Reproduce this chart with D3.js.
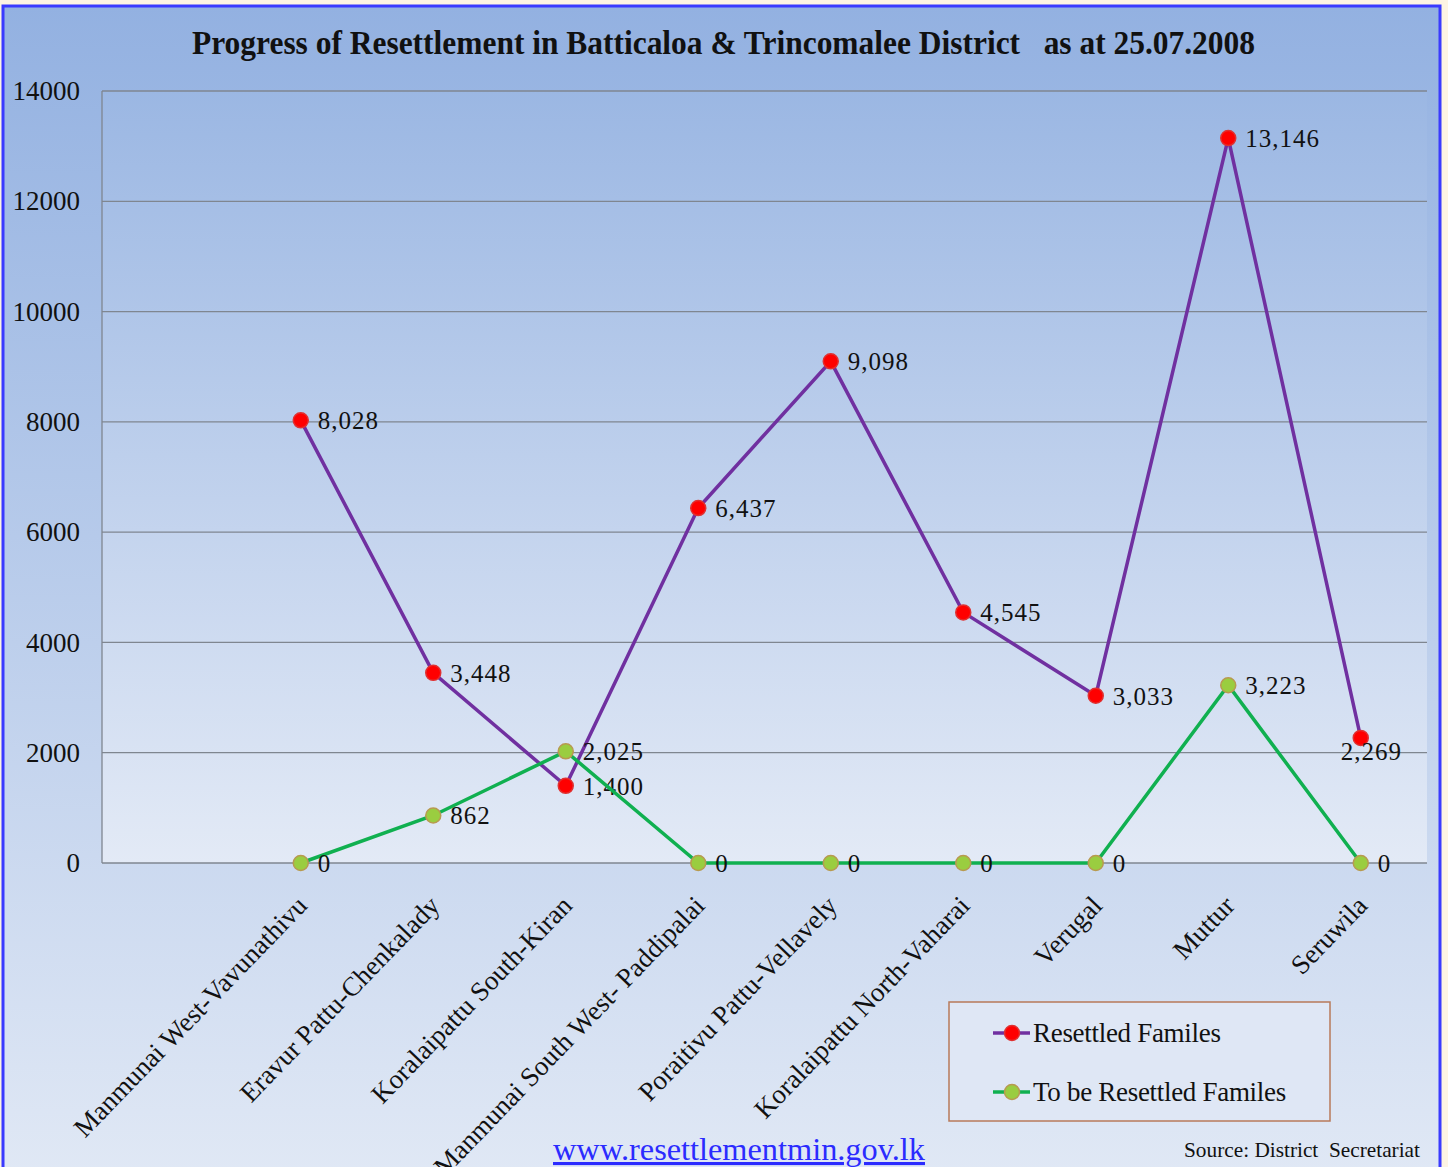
<!DOCTYPE html>
<html>
<head>
<meta charset="utf-8">
<script src="https://cdn.jsdelivr.net/npm/d3@7"></script>
<style>
  body { margin: 0; background: #fdf4e3; }
  svg { display: block; }
  text { font-family: "Liberation Serif", "DejaVu Serif", serif; fill: #111; }
</style>
</head>
<body>
<svg id="chart" width="1448" height="1167"></svg>
<script>
// categories (the first band is left empty, as in the original chart)
var districts = ["Manmunai West-Vavunathivu", "Eravur Pattu-Chenkalady", "Koralaipattu South-Kiran",
    "Manmunai South West- Paddipalai", "Poraitivu Pattu-Vellavely", "Koralaipattu North-Vaharai",
    "Verugal", "Muttur", "Seruwila"];
var resettled = [8028, 3448, 1400, 6437, 9098, 4545, 3033, 13146, 2269];
var toBeResettled = [0, 862, 2025, 0, 0, 0, 0, 3223, 0];
var yTicks = [0, 2000, 4000, 6000, 8000, 10000, 12000, 14000];
var seriesNames = ["Resettled Familes", "To be Resettled Familes"];

var width = 1448,
    height = 1167,
    plot = { left: 102, right: 1427, top: 91, bottom: 863 };

var svg = d3.select('#chart');
var defs = svg.append("defs");

var g1 = defs.append("linearGradient").attr("id", "bg").attr("x1", 0).attr("y1", 0).attr("x2", 0).attr("y2", 1);
g1.append("stop").attr("offset", "0%").attr("stop-color", "#93b1e1");
g1.append("stop").attr("offset", "100%").attr("stop-color", "#e0e8f5");

var g2 = defs.append("linearGradient").attr("id", "plotbg").attr("x1", 0).attr("y1", 0).attr("x2", 0).attr("y2", 1);
g2.append("stop").attr("offset", "0%").attr("stop-color", "#9bb7e3");
g2.append("stop").attr("offset", "100%").attr("stop-color", "#e3eaf6");

// outer panel
svg.append("rect")
    .attr("x", 3).attr("y", 6)
    .attr("width", 1437).attr("height", height)
    .attr("fill", "url(#bg)")
    .attr("stroke", "#3a3aff")
    .attr("stroke-width", 3);

// plot area
svg.append("rect")
    .attr("x", plot.left).attr("y", plot.top)
    .attr("width", plot.right - plot.left).attr("height", plot.bottom - plot.top)
    .attr("fill", "url(#plotbg)");

// title
svg.append("text")
    .attr("x", 192).attr("y", 54)
    .attr("textLength", 1063)
    .attr("lengthAdjust", "spacingAndGlyphs")
    .style("font-size", "33px")
    .style("font-weight", "bold")
    .style("white-space", "pre")
    .text("Progress of Resettlement in Batticaloa & Trincomalee District   as at 25.07.2008");

var xScale = d3.scaleBand().domain([""].concat(districts)).range([plot.left, plot.right]).padding(0);
var yScale = d3.scaleLinear().domain([0, 14000]).range([plot.bottom, plot.top]);
var cx = d => xScale(d) + xScale.bandwidth() / 2;

// grid lines
svg.append("g")
    .attr("class", "grid")
    .selectAll("line")
    .data(yTicks)
    .enter().append("line")
    .attr("x1", plot.left).attr("x2", plot.right)
    .attr("y1", d => yScale(d)).attr("y2", d => yScale(d))
    .attr("stroke", "#7f8690")
    .attr("stroke-width", 1.3);

svg.append("line")
    .attr("x1", plot.left).attr("x2", plot.left)
    .attr("y1", plot.top).attr("y2", plot.bottom)
    .attr("stroke", "#7f8690").attr("stroke-width", 1.3);

// y axis labels
var yAxis = d3.axisLeft(yScale).tickValues(yTicks).tickSize(0).tickPadding(22).tickFormat(d3.format("d"));
var yAxisGroup = svg.append("g").attr("transform", `translate(${plot.left},0)`).call(yAxis);
yAxisGroup.select(".domain").remove();
yAxisGroup.selectAll("text")
    .style("font-family", '"Liberation Serif", serif')
    .style("font-size", "27px")
    .attr("fill", "#111");

// x axis labels (rotated)
var xAxis = d3.axisBottom(xScale).tickSize(0);
var xAxisGroup = svg.append("g").attr("transform", `translate(0,${plot.bottom})`).call(xAxis);
xAxisGroup.select(".domain").remove();
xAxisGroup.selectAll("text")
    .style("font-family", '"Liberation Serif", serif')
    .style("font-size", "27px")
    .attr("fill", "#111")
    .attr("x", 0).attr("y", 0).attr("dy", 0)
    .attr("text-anchor", "end")
    .attr("transform", "translate(8,44) rotate(-46)");

// series
var series = [
    { name: seriesNames[0], values: resettled, line: "#7030a0", fill: "#ff0000", stroke: "#e03030" },
    { name: seriesNames[1], values: toBeResettled, line: "#10b050", fill: "#9acd40", stroke: "#b89a50" }
];

var line = d3.line()
    .x((d, i) => cx(districts[i]))
    .y(d => yScale(d));

var fmt = d3.format(",");

series.forEach(function (s, k) {
    svg.append("path")
        .datum(s.values)
        .attr("fill", "none")
        .attr("stroke", s.line)
        .attr("stroke-width", 3.5)
        .attr("d", line);

    svg.append("g").selectAll("circle")
        .data(s.values)
        .enter().append("circle")
        .attr("cx", (d, i) => cx(districts[i]))
        .attr("cy", d => yScale(d))
        .attr("r", 7.5)
        .attr("fill", s.fill)
        .attr("stroke", s.stroke)
        .attr("stroke-width", 1.5);

    svg.append("g").selectAll("text")
        .data(s.values)
        .enter().append("text")
        .attr("x", (d, i) => cx(districts[i]) + ((k == 0 && i == s.values.length - 1) ? -20 : 17))
        .attr("y", (d, i) => yScale(d) + ((k == 0 && i == s.values.length - 1) ? 22 : 9))
        .style("font-size", "25px")
        .style("letter-spacing", "1px")
        .text(d => fmt(d));
});

// legend
var legend = svg.append("g");
legend.append("rect")
    .attr("x", 949).attr("y", 1002)
    .attr("width", 381).attr("height", 119)
    .attr("fill", "#dfe7f5")
    .attr("stroke", "#b87a5a")
    .attr("stroke-width", 1.5);

series.forEach(function (s, k) {
    var ly = 1033 + k * 59;
    legend.append("line")
        .attr("x1", 993).attr("x2", 1030)
        .attr("y1", ly).attr("y2", ly)
        .attr("stroke", s.line).attr("stroke-width", 3.5);
    legend.append("circle")
        .attr("cx", 1012).attr("cy", ly).attr("r", 7.5)
        .attr("fill", s.fill).attr("stroke", s.stroke).attr("stroke-width", 1.5);
    legend.append("text")
        .attr("x", 1033).attr("y", ly + 9)
        .style("font-size", "27px")
        .style("letter-spacing", "-0.3px")
        .text(s.name);
});

// footer
svg.append("text")
    .attr("x", 553).attr("y", 1160)
    .attr("textLength", 372)
    .attr("lengthAdjust", "spacingAndGlyphs")
    .style("font-size", "31px")
    .style("fill", "#2b2bff")
    .style("text-decoration", "underline")
    .text("www.resettlementmin.gov.lk");

svg.append("text")
    .attr("x", 1184).attr("y", 1157)
    .attr("textLength", 236)
    .attr("lengthAdjust", "spacingAndGlyphs")
    .style("font-size", "21px")
    .style("white-space", "pre")
    .text("Source: District  Secretariat");
</script>
</body>
</html>
